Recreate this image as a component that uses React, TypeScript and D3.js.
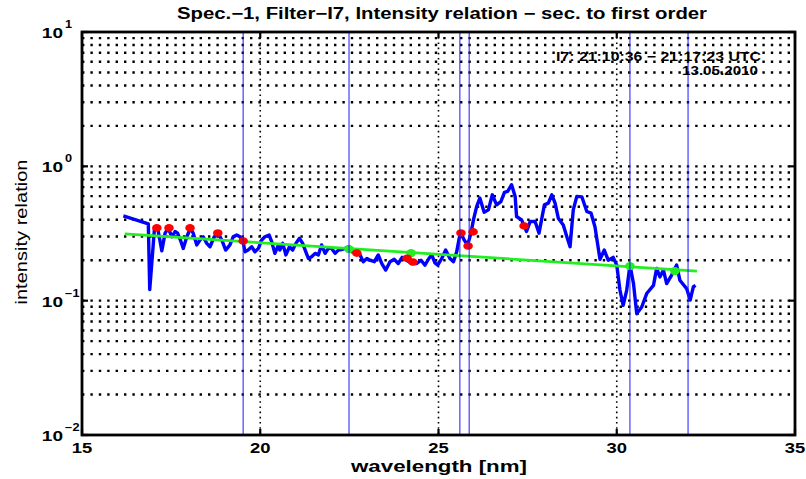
import React from 'react';
import * as d3 from 'd3';

// ---- data ----
const blueX = [16.16,16.86,16.90,17.03,17.12,17.24,17.33,17.42,17.52,17.61,17.68,17.76,17.84,17.94,18.04,18.12,18.22,18.31,18.40,18.50,18.59,18.71,18.82,18.92,19.03,19.15,19.24,19.34,19.43,19.52,19.57,19.66,19.76,19.85,19.95,20.04,20.13,20.25,20.32,20.41,20.51,20.55,20.63,20.72,20.82,20.91,21.00,21.10,21.19,21.26,21.35,21.44,21.54,21.63,21.72,21.82,21.91,22.00,22.10,22.19,22.28,22.38,22.47,22.57,22.66,22.80,22.89,22.99,23.08,23.20,23.31,23.41,23.52,23.64,23.76,23.87,23.98,24.11,24.25,24.39,24.51,24.62,24.73,24.81,24.90,24.98,25.09,25.20,25.32,25.42,25.51,25.58,25.63,25.72,25.82,25.91,25.98,26.07,26.16,26.28,26.40,26.51,26.63,26.75,26.85,26.94,27.05,27.15,27.19,27.33,27.47,27.57,27.71,27.82,27.97,28.08,28.18,28.27,28.36,28.50,28.60,28.69,28.78,28.88,29.02,29.16,29.28,29.39,29.53,29.65,29.76,29.90,30.00,30.09,30.18,30.28,30.37,30.47,30.56,30.70,30.84,31.03,31.12,31.21,31.31,31.40,31.54,31.68,31.77,31.96,32.06,32.15,32.21];
const blueY = [0.428,0.373,0.121,0.336,0.348,0.235,0.318,0.346,0.299,0.327,0.318,0.283,0.245,0.299,0.346,0.318,0.260,0.283,0.299,0.267,0.252,0.299,0.318,0.283,0.238,0.260,0.299,0.308,0.299,0.275,0.231,0.238,0.252,0.231,0.245,0.283,0.299,0.308,0.275,0.225,0.260,0.238,0.267,0.219,0.252,0.238,0.267,0.291,0.267,0.238,0.206,0.212,0.225,0.219,0.260,0.225,0.245,0.245,0.225,0.238,0.240,0.245,0.252,0.231,0.231,0.219,0.195,0.206,0.200,0.195,0.219,0.189,0.169,0.195,0.203,0.189,0.210,0.200,0.189,0.189,0.200,0.184,0.206,0.219,0.191,0.184,0.206,0.238,0.206,0.195,0.231,0.291,0.318,0.283,0.260,0.318,0.399,0.502,0.580,0.455,0.474,0.614,0.517,0.547,0.640,0.650,0.730,0.597,0.423,0.399,0.327,0.388,0.388,0.318,0.517,0.532,0.614,0.532,0.411,0.366,0.299,0.252,0.474,0.597,0.593,0.461,0.448,0.353,0.203,0.238,0.200,0.210,0.184,0.120,0.0924,0.120,0.184,0.134,0.080,0.0897,0.113,0.130,0.174,0.150,0.169,0.134,0.155,0.184,0.142,0.123,0.101,0.127,0.130];

const redX = [17.10,17.44,18.03,18.81,19.52,22.71,24.12,24.28,25.63,25.83,25.97,27.40];
const redY = [0.348,0.348,0.348,0.319,0.278,0.226,0.207,0.194,0.319,0.255,0.325,0.360];

const greenX = [22.49,24.23,30.37,31.63];
const greenY = [0.242,0.226,0.181,0.166];

const fitX = [16.2,32.25];
const fitY = [0.314,0.166];

const markLinesX = [19.52,22.49,25.6,25.86,30.37,32.0];

const xTicks = [15,20,25,30,35];
const yTickVals = [0.01,0.1,1,10];
const yTickExp = ['\u22122','\u22121','0','1'];

const titleText = 'Spec.\u22121, Filter\u2212I7, Intensity relation \u2212 sec. to first order';
const noteLine1 = 'I7: 21:10:36 \u2212 21:17:23 UTC';
const noteLine2 = '13.05.2010';
const xLabel = 'wavelength [nm]';
const yLabel = 'intensity relation';

const FONT = "'Liberation Sans', Arial, Helvetica, sans-serif";
const SX = 1.27;

export default function App() {
  const W = 806, H = 479;
  const L = 82, R = 795, T = 32, B = 435;
  const x = d3.scaleLinear().domain([15, 35]).range([L, R]);
  const y = d3.scaleLog().domain([0.01, 10]).range([B, T]);

  const idx = blueX.map((_, i) => i);
  const blueLine = d3.line<number>().x(i => x(blueX[i])).y(i => y(blueY[i]))(idx) || '';
  const fitLine = d3.line<number>().x(i => x(fitX[i])).y(i => y(fitY[i]))([0, 1]) || '';

  const gridY = y.ticks().filter(v => v > 0.0101 && v < 9.9);
  const gridX = xTicks.filter(v => v > 15 && v < 35);

  return (
    <svg width={W} height={H} style={{ position: 'absolute', left: 0, top: 0, background: '#fff' }}
      fontFamily={FONT}>
      <rect x={0} y={0} width={W} height={H} fill="#fff" />
      {/* grid */}
      {gridY.map((v, i) => (
        <line key={'gy' + i} x1={L} x2={R} y1={y(v)} y2={y(v)} stroke="#000" strokeWidth={2.4}
          strokeDasharray="2.4 6" />
      ))}
      {gridX.map((v, i) => (
        <line key={'gx' + i} x1={x(v)} x2={x(v)} y1={T} y2={B} stroke="#000" strokeWidth={1.6}
          strokeDasharray="1.6 3.6" />
      ))}
      {/* data line */}
      <path d={blueLine} fill="none" stroke="#0000ff" strokeWidth={3.4} strokeLinejoin="round" />
      <path d={fitLine} fill="none" stroke="#22ee22" strokeWidth={2.8} />
      {greenX.map((v, i) => (
        <ellipse key={'g' + i} cx={x(v)} cy={y(greenY[i])} rx={4.8} ry={4} fill="#22ee22" />
      ))}
      {redX.map((v, i) => (
        <ellipse key={'r' + i} cx={x(v)} cy={y(redY[i])} rx={4.8} ry={3.8} fill="#ff0000" />
      ))}
      {markLinesX.map((v, i) => (
        <line key={'m' + i} x1={x(v)} x2={x(v)} y1={T} y2={B} stroke="#1a1aff" strokeWidth={1} />
      ))}
      {/* ticks */}
      {xTicks.map((v, i) => (
        <g key={'xt' + i}>
          <line x1={x(v)} x2={x(v)} y1={B} y2={B - 6} stroke="#000" strokeWidth={2.2} />
          <line x1={x(v)} x2={x(v)} y1={T} y2={T + 6} stroke="#000" strokeWidth={2.2} />
          <text transform={`translate(${x(v)},453) scale(${SX},1)`} textAnchor="middle" fontSize={14.5}
            fontWeight="bold">{String(v)}</text>
        </g>
      ))}
      {yTickVals.map((v, i) => (
        <g key={'yt' + i}>
          <line x1={L} x2={L + 6} y1={y(v)} y2={y(v)} stroke="#000" strokeWidth={2.2} />
          <line x1={R} x2={R - 6} y1={y(v)} y2={y(v)} stroke="#000" strokeWidth={2.2} />
          <text transform={`translate(63,${y(v) + 6}) scale(${SX},1)`} textAnchor="end" fontSize={15}
            fontWeight="bold">10</text>
          <text transform={`translate(65,${y(v) - 4}) scale(${SX},1)`} fontSize={10}
            fontWeight="bold">{yTickExp[i]}</text>
        </g>
      ))}
      {/* frame */}
      <rect x={L} y={T} width={R - L} height={B - T} fill="none" stroke="#000" strokeWidth={2.8} />
      {/* texts */}
      <text x={442} y={19} textAnchor="middle" fontSize={16} fontWeight="bold" textLength={530}
        lengthAdjust="spacingAndGlyphs">{titleText}</text>
      <text x={761} y={61} textAnchor="end" fontSize={12.5} fontWeight="bold" textLength={205}
        lengthAdjust="spacingAndGlyphs">{noteLine1}</text>
      <text x={758} y={75} textAnchor="end" fontSize={12.5} fontWeight="bold" textLength={76}
        lengthAdjust="spacingAndGlyphs">{noteLine2}</text>
      <text x={439} y={472} textAnchor="middle" fontSize={16.5} fontWeight="bold" textLength={176}
        lengthAdjust="spacingAndGlyphs">{xLabel}</text>
      <text transform="translate(27,232) rotate(-90)" textAnchor="middle" fontSize={16.5} textLength={145}
        lengthAdjust="spacingAndGlyphs">{yLabel}</text>
    </svg>
  );
}
